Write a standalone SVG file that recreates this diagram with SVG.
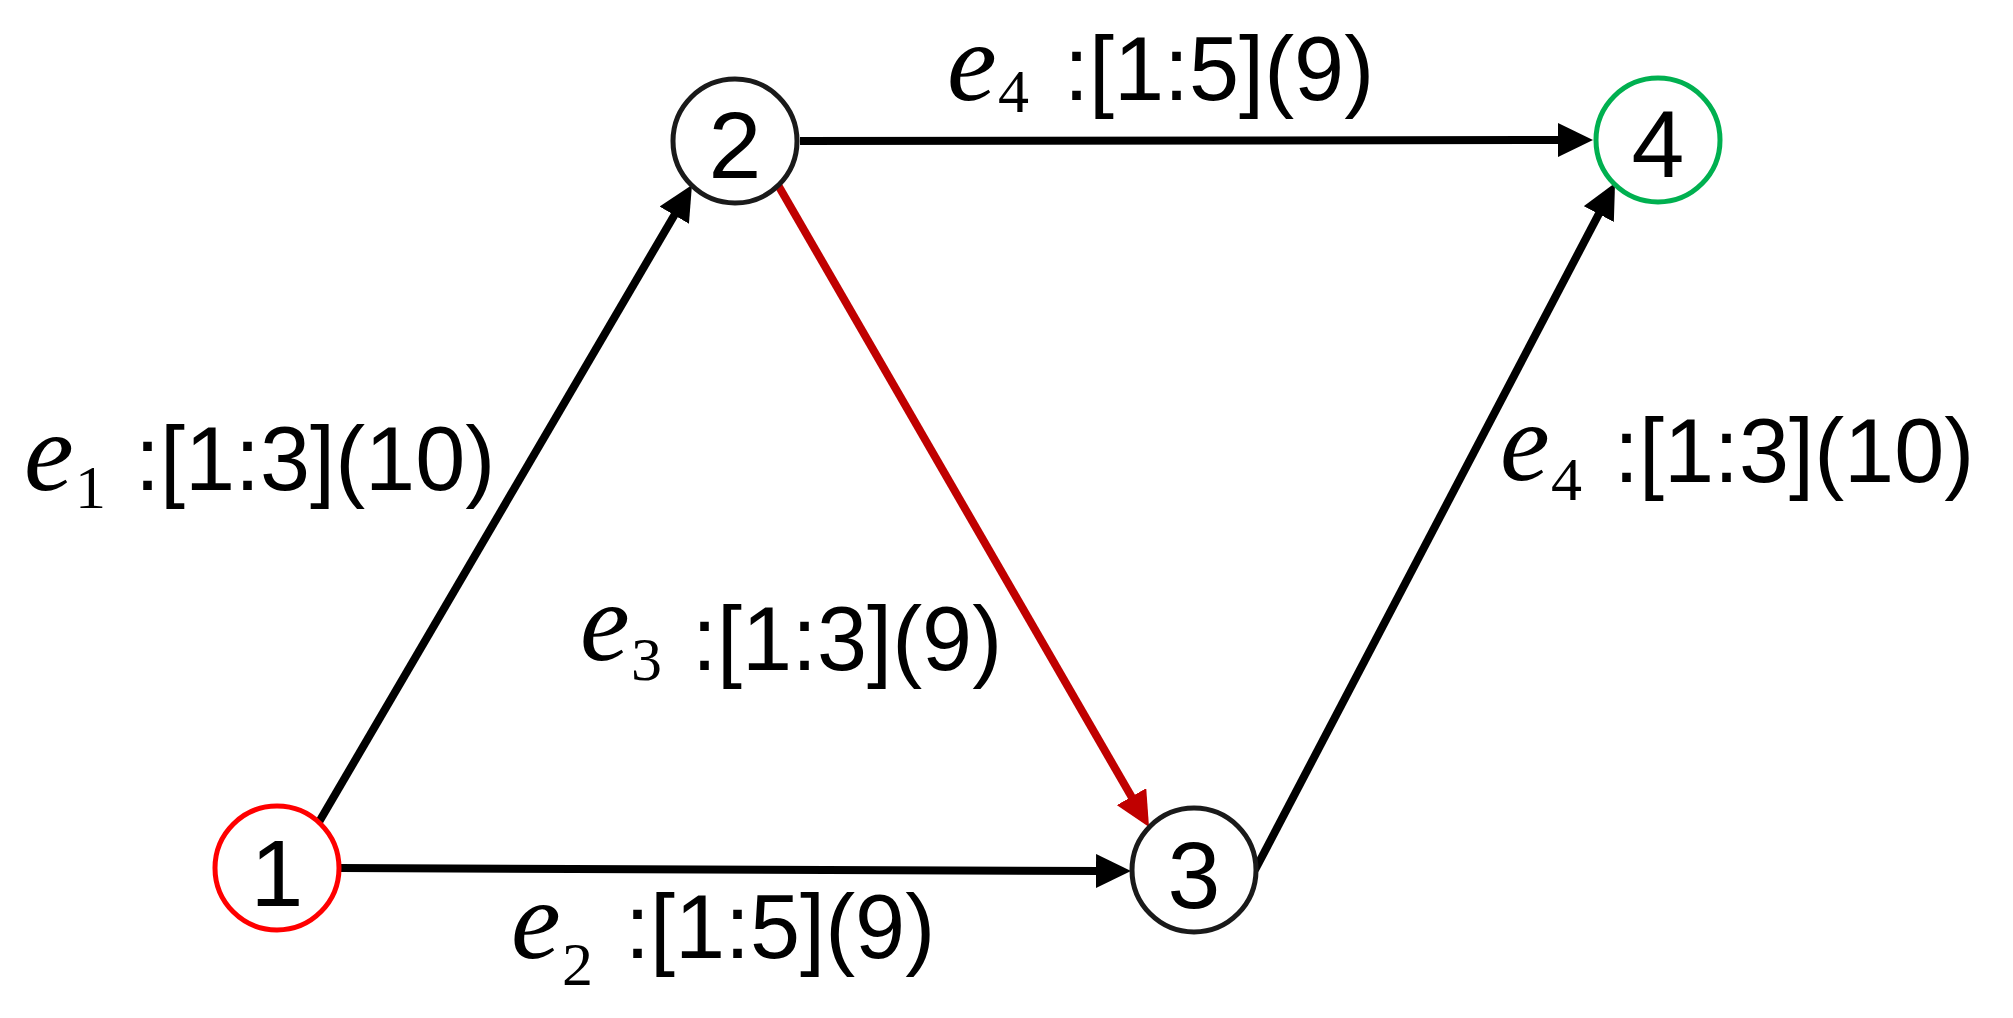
<svg xmlns="http://www.w3.org/2000/svg" width="2013" height="1018" viewBox="0 0 2013 1018">
<style>
.node{fill:#ffffff;stroke-width:5}
.nlabel{font-family:"Liberation Sans",Arial,sans-serif;font-size:95px;fill:#000;text-anchor:middle}
.edge{stroke:#000;stroke-width:8;fill:none}
.red{stroke:#c00000}
.lbl{font-family:"Liberation Sans",Arial,sans-serif;font-size:90px;fill:#000}
.e{font-family:"Liberation Serif","Times New Roman",serif;font-style:italic;font-size:112px}
.sub{font-family:"Liberation Serif","Times New Roman",serif;font-size:62px}
</style>
<defs>
<marker id="ah" markerUnits="userSpaceOnUse" markerWidth="36" markerHeight="34" refX="5" refY="17" orient="auto">
<path d="M0,0 L35,17 L0,34 z" fill="#000"/>
</marker>
<marker id="ahr" markerUnits="userSpaceOnUse" markerWidth="36" markerHeight="34" refX="5" refY="17" orient="auto">
<path d="M0,0 L35,17 L0,34 z" fill="#c00000"/>
</marker>
</defs>
<rect width="2013" height="1018" fill="#ffffff"/>
<g id="connectors">
<line class="edge" x1="319" y1="822" x2="676.8" y2="210.9" marker-end="url(#ah)"/>
<line class="edge" x1="340" y1="868" x2="1101" y2="871" marker-end="url(#ah)"/>
<line class="edge" x1="800" y1="141" x2="1563" y2="140" marker-end="url(#ah)"/>
<line class="edge red" x1="778" y1="185" x2="1134" y2="801" marker-end="url(#ahr)"/>
<line class="edge" x1="1255" y1="870" x2="1601.1" y2="209.6" marker-end="url(#ah)"/>
</g>
<g id="node1"><circle class="node" cx="277" cy="868" r="62" stroke="#ff0000"/><text class="nlabel" x="277" y="906">1</text></g>
<g id="node2"><circle class="node" cx="735" cy="141" r="62" stroke="#1a1a1a"/><text class="nlabel" x="735" y="178">2</text></g>
<g id="node3"><circle class="node" cx="1194" cy="870" r="62" stroke="#1a1a1a"/><text class="nlabel" x="1194" y="908">3</text></g>
<g id="node4"><circle class="node" cx="1658" cy="140" r="62" stroke="#00b050"/><text class="nlabel" x="1658" y="177">4</text></g>
<g id="labels">
<text class="lbl"><tspan class="e" x="24" y="490">e</tspan><tspan class="sub" x="75" y="508">1</tspan><tspan x="135" y="490">:[1:3](10)</tspan></text>
<text class="lbl"><tspan class="e" x="511" y="958">e</tspan><tspan class="sub" x="562" y="985">2</tspan><tspan x="625" y="958">:[1:5](9)</tspan></text>
<text class="lbl"><tspan class="e" x="580" y="660">e</tspan><tspan class="sub" x="631" y="680">3</tspan><tspan x="692" y="670">:[1:3](9)</tspan></text>
<text class="lbl"><tspan class="e" x="947" y="100">e</tspan><tspan class="sub" x="998" y="112">4</tspan><tspan x="1064" y="100">:[1:5](9)</tspan></text>
<text class="lbl"><tspan class="e" x="1500" y="480">e</tspan><tspan class="sub" x="1551" y="500">4</tspan><tspan x="1614" y="482">:[1:3](10)</tspan></text>
</g>
</svg>
